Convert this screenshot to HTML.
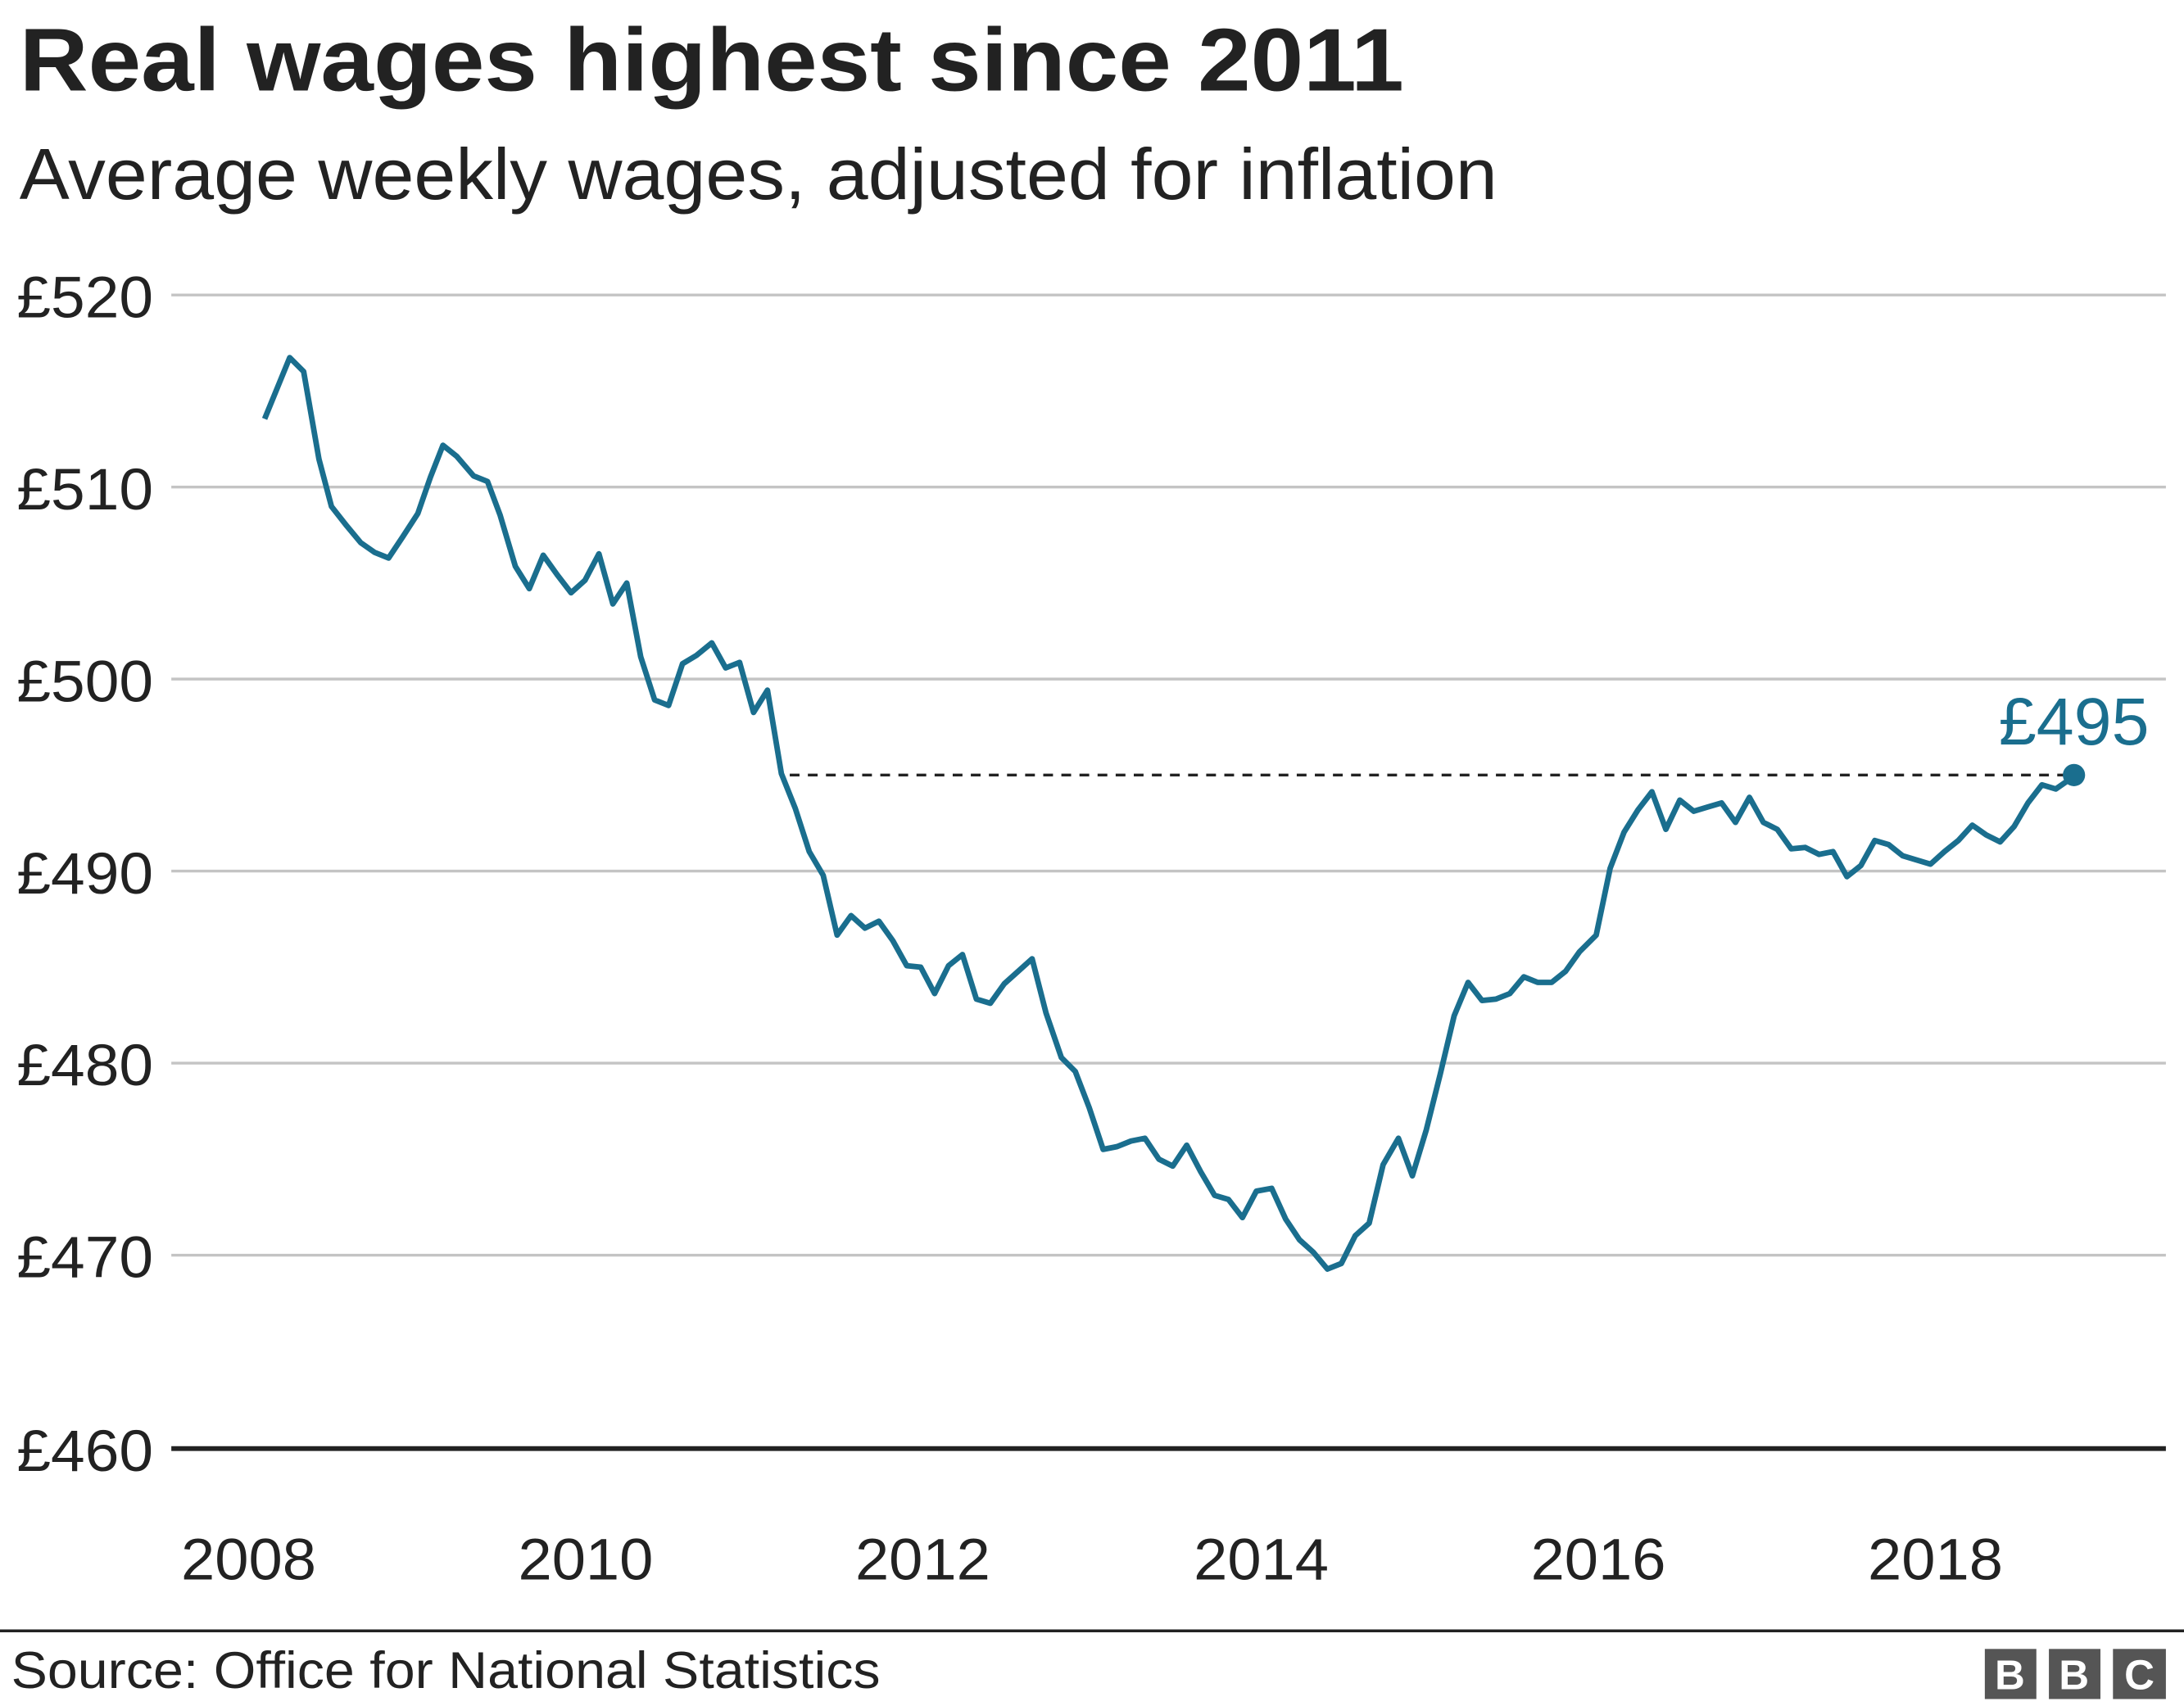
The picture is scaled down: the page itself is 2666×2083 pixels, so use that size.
<!DOCTYPE html>
<html><head><meta charset="utf-8"><style>
html,body{margin:0;padding:0;background:#fff}
svg{display:block}
text{font-family:"Liberation Sans",Arial,sans-serif}
</style></head><body>
<svg width="2666" height="2083" viewBox="0 0 1568 1226" preserveAspectRatio="none" xmlns="http://www.w3.org/2000/svg">
<rect width="1568" height="1226" fill="#fff"/>
<text x="14" y="65" font-size="64" font-weight="bold" fill="#222" textLength="994" lengthAdjust="spacingAndGlyphs">Real wages highest since 2011</text>
<text x="14" y="143" font-size="52" fill="#222" textLength="1061" lengthAdjust="spacingAndGlyphs">Average weekly wages, adjusted for inflation</text>
<g stroke="#c4c4c4" stroke-width="2">
<line x1="123" y1="212" x2="1555" y2="212"/>
<line x1="123" y1="350" x2="1555" y2="350"/>
<line x1="123" y1="488" x2="1555" y2="488"/>
<line x1="123" y1="626" x2="1555" y2="626"/>
<line x1="123" y1="764" x2="1555" y2="764"/>
<line x1="123" y1="902" x2="1555" y2="902"/>
</g>
<line x1="123" y1="1041" x2="1555" y2="1041" stroke="#222" stroke-width="3.5"/>
<g font-size="42" fill="#222">
<text x="12" y="228" textLength="98" lengthAdjust="spacingAndGlyphs">£520</text>
<text x="12" y="366" textLength="98" lengthAdjust="spacingAndGlyphs">£510</text>
<text x="12" y="504" textLength="98" lengthAdjust="spacingAndGlyphs">£500</text>
<text x="12" y="642" textLength="98" lengthAdjust="spacingAndGlyphs">£490</text>
<text x="12" y="780" textLength="98" lengthAdjust="spacingAndGlyphs">£480</text>
<text x="12" y="918" textLength="98" lengthAdjust="spacingAndGlyphs">£470</text>
<text x="12" y="1057" textLength="98" lengthAdjust="spacingAndGlyphs">£460</text>
</g>
<g font-size="42" fill="#222">
<text x="130" y="1135" textLength="97" lengthAdjust="spacingAndGlyphs">2008</text>
<text x="372" y="1135" textLength="97" lengthAdjust="spacingAndGlyphs">2010</text>
<text x="614" y="1135" textLength="97" lengthAdjust="spacingAndGlyphs">2012</text>
<text x="857" y="1135" textLength="97" lengthAdjust="spacingAndGlyphs">2014</text>
<text x="1099" y="1135" textLength="97" lengthAdjust="spacingAndGlyphs">2016</text>
<text x="1341" y="1135" textLength="97" lengthAdjust="spacingAndGlyphs">2018</text>
</g>
<line x1="567" y1="557" x2="1485" y2="557" stroke="#222" stroke-width="2" stroke-dasharray="7,6"/>
<polyline fill="none" stroke="#1a6e8e" stroke-width="4" stroke-linejoin="round" points="190,301 208,257 218,267 229,330 238,364 249,378 259,390 269,397 279,401 289,386 300,369 309,343 318,320 328,328 340,342 350,346 359,370 370,407 380,423 390,399 400,413 410,426 420,417 430,398 440,434 450,419 460,472 470,503 480,507 490,477 500,471 511,462 521,480 531,476 541,512 551,496 561,556 571,581 581,612 591,629 601,672 611,658 621,667 631,662 641,676 651,694 661,695 671,714 681,694 691,686 701,718 711,721 721,707 731,698 741,689 751,728 762,760 772,770 782,796 792,826 802,824 812,820 822,818 832,833 842,838 852,823 862,842 872,859 882,862 892,875 902,856 913,854 923,876 933,891 943,900 953,912 963,908 973,888 983,879 993,837 1004,818 1014,845 1024,812 1034,772 1044,730 1054,706 1064,719 1074,718 1084,714 1094,702 1104,706 1114,706 1124,698 1134,684 1146,672 1156,624 1166,598 1176,582 1186,569 1196,596 1206,575 1216,583 1226,580 1236,577 1246,591 1256,573 1266,591 1276,596 1286,610 1296,609 1306,614 1316,612 1326,630 1336,622 1346,604 1356,607 1366,615 1376,618 1386,621 1396,612 1406,604 1416,593 1426,600 1436,605 1446,594 1456,577 1466,564 1476,567 1486,560"/>
<circle cx="1489" cy="557" r="8" fill="#1a6e8e"/>
<text x="1435" y="535" font-size="48" fill="#1a6e8e" textLength="108" lengthAdjust="spacingAndGlyphs">£495</text>
<line x1="0" y1="1172" x2="1568" y2="1172" stroke="#222" stroke-width="2"/>
<text x="8" y="1213" font-size="37" fill="#222" textLength="624" lengthAdjust="spacingAndGlyphs">Source: Office for National Statistics</text>
<g>
<rect x="1425" y="1185" width="37" height="36" fill="#555"/>
<rect x="1471" y="1185" width="37" height="36" fill="#555"/>
<rect x="1517" y="1185" width="38" height="36" fill="#555"/>
<g font-size="30" font-weight="bold" fill="#fff" text-anchor="middle">
<text x="1443" y="1214">B</text><text x="1489" y="1214">B</text><text x="1536" y="1214">C</text>
</g>
</g>
</svg>
</body></html>
